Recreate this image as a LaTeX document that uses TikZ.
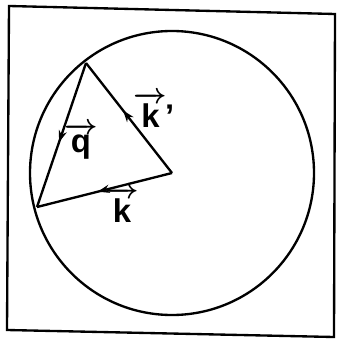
\documentclass[tikz,border=0pt]{standalone}
\usepackage{amsmath}
\usepackage{fontspec}
\setmainfont{Liberation Sans}
\usetikzlibrary{arrows.meta, decorations.markings}

\begin{document}
\begin{tikzpicture}[
    x=0.03cm, y=-0.03cm,
    edge/.style={line width=2pt},
    midarrow/.style={postaction={decorate}, decoration={markings,
        mark=at position #1 with {\arrow{Stealth[length=10pt, width=7pt]}}}},
    lbl/.style={font=\fontsize{28}{30}\selectfont\bfseries\boldmath, inner sep=0pt}
]
\useasboundingbox (0,0) rectangle (337,342);
% frame
\draw[edge] (9,6) -- (335,14) -- (334,337) -- (7,330) -- cycle;

\coordinate (O) at (172,173);
\coordinate (A) at (86,63);
\coordinate (B) at (37,207);

\draw[edge] (O) circle[radius=142];

\draw[edge, midarrow=0.57] (O) -- (A);
\draw[edge, midarrow=0.55] (O) -- (B);
\draw[edge, midarrow=0.55] (A) -- (B);

\node[lbl] (kp) at (154,110) {$\overrightarrow{\text{k}}$\kern-2pt'};
\node[lbl] (q)  at (81,141)  {$\overrightarrow{\text{q}}$};
\node[lbl] (k)  at (122,205) {$\overrightarrow{\text{k}}$};
\end{tikzpicture}
\end{document}
